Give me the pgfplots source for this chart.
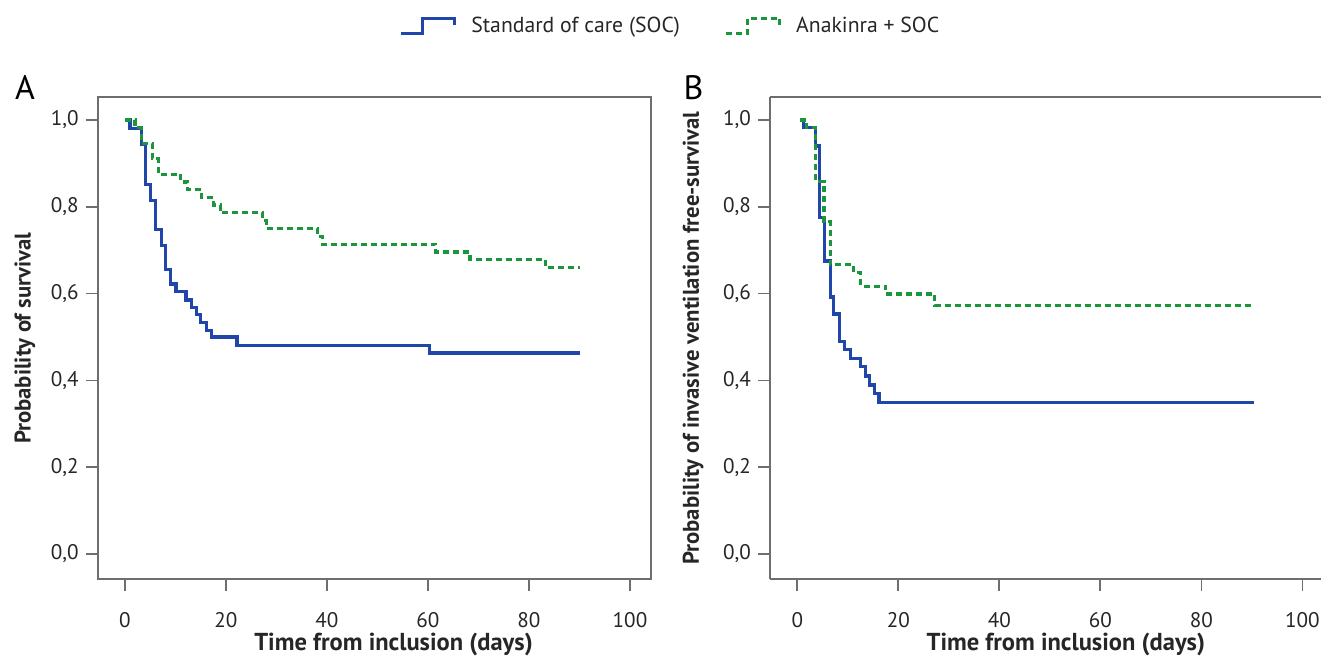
\documentclass[border=0pt]{standalone}
\usepackage{fontspec}
\setmainfont{PT Sans}
\usepackage{pgfplots}
\pgfplotsset{compat=1.18}

\definecolor{socblue}{RGB}{31,70,168}
\definecolor{anagreen}{RGB}{28,150,60}
\definecolor{axgray}{RGB}{110,110,110}

\pgfplotsset{
  kmaxis/.style={
    scale only axis, width=276.5bp, height=240.75bp,
    xmin=-5.4, xmax=104.1, ymin=-0.058, ymax=1.052,
    xtick={0,20,40,60,80,100}, ytick={0,0.2,0.4,0.6,0.8,1.0},
    tick align=outside, major tick length=6bp,
    axis line style={axgray, line width=1bp},
    every tick/.style={axgray, line width=0.8bp},
    /pgf/number format/assume math mode=true,
    yticklabel style={/pgf/number format/.cd, fixed, fixed zerofill, precision=1, use comma},
    ticklabel style={font=\fontsize{10.6}{12}\selectfont, text=black!85},
    xticklabel style={yshift=-7bp},
    xlabel={Time from inclusion (days)},
    xlabel style={font=\fontsize{12.3}{14}\selectfont\bfseries, text=black!85, at={(axis description cs:0.535,-0.137)}, anchor=center},
    ylabel style={font=\fontsize{11.4}{13}\selectfont\bfseries, text=black!85, anchor=center},
    clip=false,
    legend image code/.code={\draw[#1, line join=miter] (0bp,-3.5bp) -- (11bp,-3.5bp) -- (11bp,4bp) -- (27bp,4bp) -- (27bp,0.5bp);},
  },
  socstyle/.style={const plot, socblue, line width=1.6bp, no marks},
  anastyle/.style={const plot, anagreen, line width=1.6bp, dash pattern=on 3bp off 2bp, no marks},
}

\begin{document}
\begin{tikzpicture}
\useasboundingbox (-48.85bp,-39.5bp) rectangle (611.65bp,289.5bp);

% Panel A
\begin{axis}[kmaxis, tick pos=left,
  ylabel={Probability of survival},
  ylabel style={at={(axis description cs:-0.1315,0.5)}},
  legend style={at={(1.037,1.148)}, anchor=center, draw=none, fill=none,
    font=\fontsize{10.9}{12}\selectfont, text=black!85,
    /tikz/every odd column/.append style={column sep=5.5bp},
    /tikz/every even column/.append style={column sep=20bp}},
  legend columns=2, legend cell align=left,
]
\addplot[socstyle] coordinates {
(0,1.0) (1,0.981) (3.2,0.944) (4,0.852) (5,0.815) (6,0.748) (7.2,0.711)
(8,0.656) (9,0.622) (10.1,0.604) (12.1,0.585) (13.1,0.567) (14.1,0.552)
(15,0.533) (16.2,0.515) (17.1,0.500) (22.2,0.481) (60.3,0.463) (90.1,0.463)
};
\addlegendentry{Standard of care (SOC)}
\addplot[anastyle] coordinates {
(0,1.0) (2,0.982) (3.2,0.946) (5.4,0.911) (6.6,0.875) (11,0.857) (12.4,0.839)
(15.2,0.821) (17.6,0.804) (18.9,0.786) (27.3,0.768) (28,0.750) (38.1,0.732)
(39.1,0.714) (61.5,0.696) (68.3,0.679) (83.2,0.661) (90.1,0.661)
};
\addlegendentry{Anakinra + SOC}
\node[anchor=base west, inner sep=0pt, font=\fontsize{17}{20}\selectfont, text=black] at (rel axis cs:-0.150,0.9948) {A};
\end{axis}

% Panel B
\begin{axis}[kmaxis, at={(336.15bp,0)}, anchor=south west,
  axis x line*=box, axis y line*=left, xtick pos=left, ytick pos=left,
  ylabel={Probability of invasive ventilation free-survival},
  ylabel style={at={(axis description cs:-0.139,0.5)}},
]
\addplot[socstyle] coordinates {
(0.5,1.0) (1.3,0.983) (3.6,0.940) (4.4,0.776) (5.4,0.675) (6.5,0.592)
(7.2,0.553) (8.4,0.490) (9.4,0.471) (10.6,0.450) (12.5,0.431) (13.5,0.410)
(14.3,0.389) (15.3,0.369) (16.2,0.349) (90.4,0.349)
};
\addplot[anastyle] coordinates {
(0.5,1.0) (1.8,0.983) (3.6,0.858) (5.3,0.766) (6.5,0.667) (11.2,0.648)
(12.5,0.617) (17.5,0.599) (27.2,0.573) (90.4,0.573)
};
\node[anchor=base west, inner sep=0pt, font=\fontsize{17}{20}\selectfont, text=black] at (rel axis cs:-0.157,0.9948) {B};
\end{axis}
\end{tikzpicture}
\end{document}
